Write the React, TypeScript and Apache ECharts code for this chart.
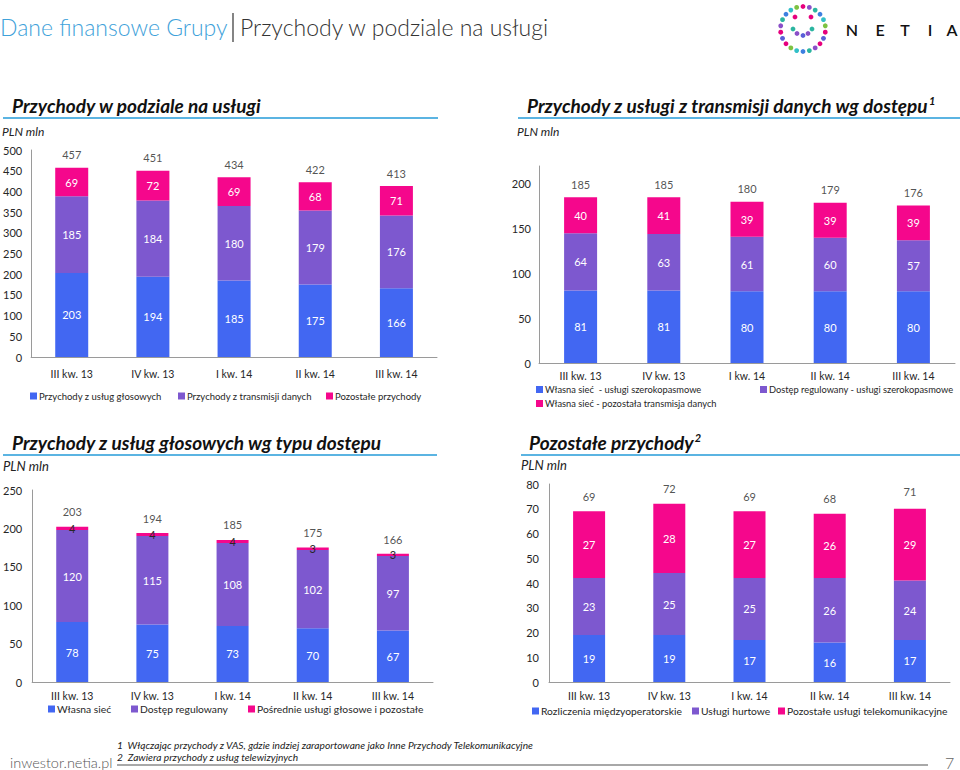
import React, { useEffect, useRef } from "react";
import * as echarts from "echarts";

// ---------- DATA ----------
const categories = ["III kw. 13", "IV kw. 13", "I kw. 14", "II kw. 14", "III kw. 14"];

// Panel 1: Przychody w podziale na usługi
const p1Names = ["Przychody z usług głosowych", "Przychody z transmisji danych", "Pozostałe przychody"];
const p1Voice = [203, 194, 185, 175, 166];
const p1Data = [185, 184, 180, 179, 176];
const p1Other = [69, 72, 69, 68, 71];
const p1Total = [457, 451, 434, 422, 413];

// Panel 2: Przychody z usługi z transmisji danych wg dostępu
const p2Names = [
  "Własna sieć  - usługi szerokopasmowe",
  "Dostęp regulowany - usługi szerokopasmowe",
  "Własna sieć - pozostała transmisja danych",
];
const p2Own = [81, 81, 80, 80, 80];
const p2Reg = [64, 63, 61, 60, 57];
const p2OwnOther = [40, 41, 39, 39, 39];
const p2Total = [185, 185, 180, 179, 176];

// Panel 3: Przychody z usług głosowych wg typu dostępu
const p3Names = ["Własna sieć", "Dostęp regulowany", "Pośrednie usługi głosowe i pozostałe"];
const p3Own = [78, 75, 73, 70, 67];
const p3Reg = [120, 115, 108, 102, 97];
const p3Indirect = [4, 4, 4, 3, 3];
const p3Total = [203, 194, 185, 175, 166];

// Panel 4: Pozostałe przychody
const p4Names = ["Rozliczenia międzyoperatorskie", "Usługi hurtowe", "Pozostałe usługi telekomunikacyjne"];
const p4Interconnect = [19, 19, 17, 16, 17];
const p4Wholesale = [23, 25, 25, 26, 24];
const p4OtherTelco = [27, 28, 27, 26, 29];
const p4Total = [69, 72, 69, 68, 71];

// Axis scales
const p1Axis = { max: 500, interval: 50 };
const p2Axis = { max: 220, interval: 50 };
const p3Axis = { max: 250, interval: 50 };
const p4Axis = { max: 80, interval: 10 };

// ---------- STYLE ----------
const BLUE = "#4267F2";
const PURPLE = "#7D58CF";
const PINK = "#F5078C";
const COLORS = [BLUE, PURPLE, PINK];
const FONT = "Lato, 'Open Sans', sans-serif";
const TXT = "#262626";
const AXIS = "#9a9a9a";
const LINEBLUE = "#5BB4E2";

const grids = [
  { left: 30, top: 150, width: 407, height: 207 },
  { left: 539, top: 166, width: 416, height: 197 },
  { left: 27, top: 490, width: 406, height: 192 },
  { left: 549, top: 484, width: 401, height: 198 },
];
const barWidths = [33, 33, 32, 32];
const xMargins = [11, 7, 8, 8];
const yMargins = [9, 8, 10, 10];
const totalDist = [7, 7, 9, 9];
const legendPos = [
  [[30, 398], [178, 398], [326, 398]],
  [[536, 392], [760, 392], [536, 406]],
  [[48, 711], [131, 711], [248, 711]],
  [[532, 713], [692, 713], [778, 713]],
];
const legendFont = [9.5, 9.3, 10.3, 10.3];

export default function App() {
  const ref = useRef<HTMLDivElement>(null);
  useEffect(() => {
    if (!ref.current) return;
    const chart = echarts.init(ref.current, undefined, { renderer: "svg" });

    const panels = [
      { names: p1Names, series: [p1Voice, p1Data, p1Other], total: p1Total, axis: p1Axis },
      { names: p2Names, series: [p2Own, p2Reg, p2OwnOther], total: p2Total, axis: p2Axis },
      { names: p3Names, series: [p3Own, p3Reg, p3Indirect], total: p3Total, axis: p3Axis },
      { names: p4Names, series: [p4Interconnect, p4Wholesale, p4OtherTelco], total: p4Total, axis: p4Axis },
    ];

    const series: any[] = [];
    const legends: any[] = [];
    panels.forEach((p, pi) => {
      p.series.forEach((vals, si) => {
        const smallDark = pi === 2 && si === 2;
        series.push({
          type: "bar",
          name: p.names[si],
          xAxisIndex: pi,
          yAxisIndex: pi,
          stack: "s" + pi,
          barWidth: barWidths[pi],
          data: vals,
          itemStyle: { color: COLORS[si] },
          label: {
            show: true,
            position: "inside",
            color: smallDark ? TXT : "#ffffff",
            fontSize: 11,
            fontFamily: FONT,
          },
          emphasis: { disabled: true },
        });
        legends.push({
          left: legendPos[pi][si][0],
          top: legendPos[pi][si][1] - 7,
          padding: 0,
          icon: "rect",
          itemWidth: 7,
          itemHeight: 7,
          itemGap: 0,
          selectedMode: false,
          data: [p.names[si]],
          textStyle: { fontSize: legendFont[pi], color: TXT, fontFamily: FONT, padding: [0, 0, 0, -3] },
        });
      });
      series.push({
        type: "scatter",
        name: "total" + pi,
        xAxisIndex: pi,
        yAxisIndex: pi,
        data: p.total,
        symbolSize: 1,
        itemStyle: { color: "rgba(0,0,0,0)" },
        silent: true,
        label: {
          show: true,
          position: "top",
          distance: totalDist[pi],
          color: TXT,
          fontSize: 11,
          fontFamily: FONT,
        },
        z: 5,
      });
    });

    const xAxis = grids.map((_, i) => ({
      type: "category",
      gridIndex: i,
      data: categories,
      axisLine: { lineStyle: { color: AXIS, width: 1 } },
      axisTick: { show: false },
      axisLabel: { color: TXT, fontSize: 10.5, fontFamily: FONT, margin: xMargins[i] },
    }));
    const yAxis = panels.map((p, i) => ({
      type: "value",
      gridIndex: i,
      min: 0,
      max: p.axis.max,
      interval: p.axis.interval,
      axisLine: { show: true, lineStyle: { color: AXIS, width: 1 } },
      axisTick: { show: false },
      splitLine: { show: false },
      axisLabel: {
        color: TXT,
        fontSize: 11,
        fontFamily: FONT,
        margin: yMargins[i],
        formatter: (v: number) => (v % p.axis.interval === 0 ? String(v) : ""),
      },
    }));

    // Logo dots
    const logoColors = ["#E6007E", "#8A4FC8", "#2BB5A0", "#3D7FE0", "#32C0C8", "#7DC242", "#E6007E", "#5A5FD8"];
    const logo: any[] = [];
    const cx = 803, cy = 29, R = 22.5, N = 22;
    for (let k = 0; k < N; k++) {
      const a = (k / N) * Math.PI * 2 - Math.PI / 2;
      logo.push({
        type: "circle",
        shape: { cx: cx + R * Math.cos(a), cy: cy + R * Math.sin(a), r: 2.4 },
        style: { fill: logoColors[k % logoColors.length] },
      });
    }
    const inner = [
      [795, 17, "#E6007E"], [811, 17, "#E6007E"],
      [793, 29, "#2BB5A0"], [797, 33.5, "#8A4FC8"], [803, 35.5, "#5A5FD8"], [808, 33.5, "#8A4FC8"], [812, 29, "#2BB5A0"],
    ];
    inner.forEach(([x, y, c]) =>
      logo.push({ type: "circle", shape: { cx: x, cy: y, r: 2.4 }, style: { fill: c } })
    );
    const netia = ["N", "E", "T", "I", "A"];
    const netiaX = [852, 880, 905, 930, 952];
    netia.forEach((l, i) =>
      logo.push({
        type: "text",
        x: netiaX[i],
        y: 29,
        style: { text: l, fill: "#111", font: `600 16px ${FONT}`, align: "center", verticalAlign: "middle" },
      })
    );

    const title = (text: string, x: number, y: number, size = 19, sup?: string) => ({
      type: "text",
      x,
      y,
      style: {
        text: sup ? `{t|${text}}{s|${sup}}` : `{t|${text}}`,
        verticalAlign: "middle",
        rich: {
          t: { fontFamily: FONT, fontSize: size, fontWeight: "bold", fontStyle: "italic", fill: "#111" },
          s: { fontFamily: FONT, fontSize: 11, fontWeight: "bold", fontStyle: "italic", fill: "#111", padding: [0, 0, 9, 1] },
        },
      },
    });
    const hline = (x1: number, x2: number, y: number, color = LINEBLUE, w = 2) => ({
      type: "line",
      shape: { x1, y1: y, x2, y2: y },
      style: { stroke: color, lineWidth: w },
    });
    const small = (text: string, x: number, y: number, size = 12, style = "italic") => ({
      type: "text",
      x,
      y,
      style: { text, fill: "#222", font: `${style} ${size}px ${FONT}`, verticalAlign: "middle" },
    });

    const graphic: any[] = [
      // header
      {
        type: "text",
        x: 0,
        y: 27,
        style: { text: "Dane finansowe Grupy", fill: "#3FA2DA", font: `300 23px ${FONT}`, verticalAlign: "middle" },
      },
      { type: "line", shape: { x1: 233, y1: 13, x2: 233, y2: 42 }, style: { stroke: "#333", lineWidth: 1.2 } },
      {
        type: "text",
        x: 240,
        y: 27,
        style: { text: "Przychody w podziale na usługi", fill: "#333", font: `300 23px ${FONT}`, verticalAlign: "middle" },
      },
      ...logo,
      // panel titles
      title("Przychody w podziale na usługi", 12, 105),
      hline(3, 438, 118),
      small("PLN mln", 2, 131),
      title("Przychody z usługi z transmisji danych wg dostępu", 527, 105, 19, "1"),
      hline(518, 960, 118),
      small("PLN mln", 517, 131),
      title("Przychody z usług głosowych wg typu dostępu", 12, 442, 19),
      hline(3, 437, 455),
      small("PLN mln", 3, 466, 13),
      title("Pozostałe przychody", 529, 442, 19, "2"),
      hline(521, 960, 455),
      small("PLN mln", 521, 465, 13),
      // footer
      {
        type: "text",
        x: 10,
        y: 762,
        style: { text: "inwestor.netia.pl", fill: "#555", font: `300 14.5px ${FONT}`, verticalAlign: "middle" },
      },
      small("1  Włączając przychody z VAS, gdzie indziej zaraportowane jako Inne Przychody Telekomunikacyjne", 117, 745, 10.2),
      small("2  Zawiera przychody z usług telewizyjnych", 117, 757, 10.2),
      hline(117, 928, 765, "#a8a8a8", 2),
      {
        type: "text",
        x: 945,
        y: 762,
        style: { text: "7", fill: "#666", font: `300 16px ${FONT}`, verticalAlign: "middle" },
      },
    ];

    chart.setOption({
      animation: false,
      backgroundColor: "#ffffff",
      textStyle: { fontFamily: FONT },
      grid: grids.map((g) => ({ ...g, containLabel: false })),
      xAxis,
      yAxis,
      legend: legends,
      series,
      graphic,
    });
    return () => chart.dispose();
  }, []);

  return (
    <div
      ref={ref}
      style={{ position: "fixed", left: 0, top: 0, width: 960, height: 770, background: "#fff" }}
    />
  );
}
